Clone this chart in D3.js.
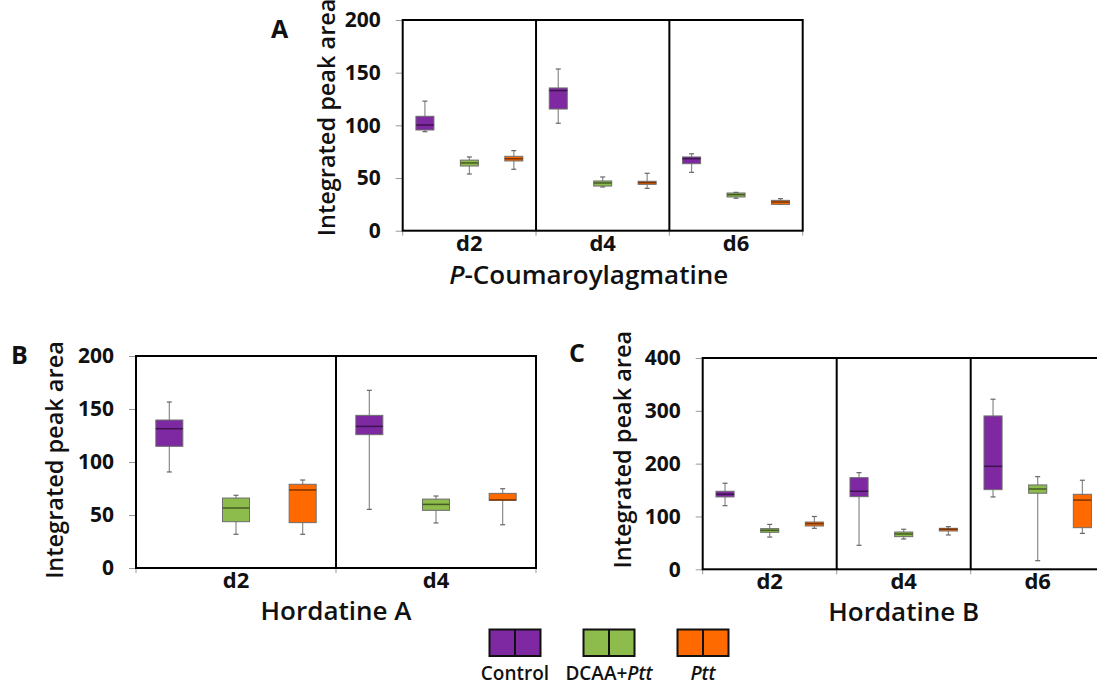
<!DOCTYPE html>
<html>
<head>
<meta charset="utf-8">
<script src="https://cdn.jsdelivr.net/npm/d3@7"></script>
<style>
  body { margin: 0; background: #fff; }
  svg { display: block; font-family: "Open Sans", "DejaVu Sans", sans-serif; }
</style>
</head>
<body>
<div class="myBox"></div>
<script>
var width = 1097;
var height = 686;

// series names + colours
var series = ["Control", "DCAA+Ptt", "Ptt"];
var colors = ["#7e28a1", "#8dbb4c", "#ff6a00"];

// box stats: [whisker low, q1, median, q3, whisker high]
// panel A - P-Coumaroylagmatine
var daysA = ["d2", "d4", "d6"];
var controlA = [[94, 95.6, 100.3, 108.6, 123], [102, 115.5, 133, 135.5, 153.5], [55.4, 63.6, 68.4, 70, 73]];
var dcaaA    = [[53.8, 61.4, 64.3, 67, 70], [41.5, 42.4, 45.3, 47.2, 51], [30.8, 32, 34.2, 35.8, 36.4]];
var pttA     = [[58.3, 66.2, 68.3, 70.6, 76], [40.2, 44, 45.6, 46.9, 54.5], [25, 25, 27.2, 28.8, 30.4]];

// panel B - Hordatine A
var daysB = ["d2", "d4"];
var controlB = [[90.6, 114.8, 131.4, 139.6, 156.6], [55.3, 125.8, 133.6, 144, 167.6]];
var dcaaB    = [[31.8, 43.7, 56.6, 66, 68.6], [42.5, 54.4, 60, 65, 67.9]];
var pttB     = [[31.8, 42.8, 73.6, 79, 83], [40.8, 64, 64.2, 70.4, 74.8]];

// panel C - Hordatine B
var daysC = ["d2", "d4", "d6"];
var controlC = [[120.5, 137, 142, 147.7, 162.9], [45.4, 137.5, 147.7, 173.5, 183], [137, 150.8, 195, 290.3, 322]];
var dcaaC    = [[61, 70, 73.8, 77, 85], [57.4, 61.8, 66.9, 70.6, 75.8], [16.3, 144, 152, 159.7, 175.4]];
var pttC     = [[77.6, 82, 86.4, 89.5, 100], [65, 72.5, 75.8, 77.6, 80.7], [68, 78.8, 131, 142, 168.6]];

var ticksA = [0, 50, 100, 150, 200];
var ticksB = [0, 50, 100, 150, 200];
var ticksC = [0, 100, 200, 300, 400];

var svg = d3.select(".myBox")
  .append("svg")
  .attr("width", width)
  .attr("height", height);

svg.append("rect").attr("width", width).attr("height", height).attr("fill", "#fff");

function panel(opt) {
  var g = svg.append("g");
  var x = d3.scaleBand().domain(opt.days).range([opt.left, opt.right]);
  var y = d3.scaleLinear().domain([0, d3.max(opt.ticks)]).range([opt.bottom, opt.top]);
  var sub = d3.scaleBand().domain(series).range([0, x.bandwidth()]);
  var bw = x.bandwidth() * 0.135;

  // y axis ticks
  var yAxis = d3.axisLeft(y).tickValues(opt.ticks).tickSize(7).tickPadding(15);
  var ya = g.append("g").attr("transform", "translate(" + opt.left + ",0)").call(yAxis);
  ya.select(".domain").remove();
  ya.selectAll("line").attr("stroke", "#999");
  ya.selectAll("text")
    .style("font-size", "21px").style("font-weight", "700")
    .style("font-family", "'Open Sans', sans-serif").attr("fill", "#111");

  // x ticks at the group boundaries
  var bounds = opt.days.map(function(d) { return x(d); }).concat([opt.right]);
  g.selectAll(".xt").data(bounds).enter().append("line")
    .attr("x1", function(d) { return d; }).attr("x2", function(d) { return d; })
    .attr("y1", opt.bottom).attr("y2", opt.bottom + 5)
    .attr("stroke", "#999");

  // day labels
  g.selectAll(".xl").data(opt.days).enter().append("text")
    .attr("x", function(d) { return x(d) + x.bandwidth() / 2; })
    .attr("y", opt.bottom + 20)
    .attr("text-anchor", "middle")
    .style("font-size", "22px").style("font-weight", "700")
    .attr("fill", "#111")
    .text(function(d) { return d; });

  // boxes
  opt.data.forEach(function(arr, si) {
    var col = colors[si];
    arr.forEach(function(s, di) {
      var cx = x(opt.days[di]) + sub(series[si]) + sub.bandwidth() / 2;
      var b = g.append("g");
      b.append("line")
        .attr("x1", cx).attr("x2", cx)
        .attr("y1", y(s[0])).attr("y2", y(s[4]))
        .attr("stroke", "#8a8a8a").attr("stroke-width", 1.2);
      [s[0], s[4]].forEach(function(v) {
        b.append("line")
          .attr("x1", cx - 2.5).attr("x2", cx + 2.5)
          .attr("y1", y(v)).attr("y2", y(v))
          .attr("stroke", "#666").attr("stroke-width", 1.2);
      });
      b.append("rect")
        .attr("x", cx - bw / 2).attr("width", bw)
        .attr("y", y(s[3])).attr("height", Math.max(y(s[1]) - y(s[3]), 1))
        .attr("fill", col)
        .attr("stroke", "#6d6d6d").attr("stroke-width", 1);
      b.append("line")
        .attr("x1", cx - bw / 2).attr("x2", cx + bw / 2)
        .attr("y1", y(s[2])).attr("y2", y(s[2]))
        .attr("stroke", d3.color(col).darker(2)).attr("stroke-width", 1.5);
    });
  });

  // frame + dividers
  g.append("rect")
    .attr("x", opt.left).attr("y", opt.top)
    .attr("width", opt.right - opt.left).attr("height", opt.bottom - opt.top)
    .attr("fill", "none").attr("stroke", "#000").attr("stroke-width", 2);
  g.selectAll(".dv").data(opt.days.slice(1)).enter().append("line")
    .attr("x1", function(d) { return x(d); }).attr("x2", function(d) { return x(d); })
    .attr("y1", opt.top).attr("y2", opt.bottom)
    .attr("stroke", "#000").attr("stroke-width", 2);

  // y title
  var yc = (opt.top + opt.bottom) / 2 + opt.yTitleDy;
  g.append("text")
    .attr("transform", "translate(" + (opt.left - opt.yTitleDx) + "," + yc + ") rotate(-90)")
    .attr("text-anchor", "middle")
    .style("font-size", "23.5px").style("font-weight", "600")
    .attr("fill", "#111")
    .text("Integrated peak area");

  // chart title
  var t = g.append("text")
    .attr("x", (opt.left + opt.right) / 2 + opt.titleDx)
    .attr("y", opt.bottom + opt.titleDy)
    .attr("text-anchor", "middle")
    .style("font-size", opt.titleSize + "px").style("font-weight", "600")
    .attr("fill", "#111");
  if (opt.titleItalic) {
    t.append("tspan").style("font-style", "italic").text(opt.titleItalic);
  }
  t.append("tspan").text(opt.title);

  // panel letter
  g.append("text")
    .attr("x", opt.letterX).attr("y", opt.letterY)
    .style("font-size", "25px").style("font-weight", "700")
    .attr("fill", "#111")
    .text(opt.letter);
}

panel({
  days: daysA, data: [controlA, dcaaA, pttA], ticks: ticksA,
  left: 402.7, right: 802.7, top: 20, bottom: 230.7,
  yTitleDx: 68, yTitleDy: -8,
  title: "-Coumaroylagmatine", titleItalic: "P", titleSize: 26, titleDx: -14, titleDy: 53,
  letter: "A", letterX: 271, letterY: 38
});

panel({
  days: daysB, data: [controlB, dcaaB, pttB], ticks: ticksB,
  left: 136, right: 536, top: 356, bottom: 568,
  yTitleDx: 73, yTitleDy: -2,
  title: "Hordatine A", titleSize: 26, titleDx: 0, titleDy: 52,
  letter: "B", letterX: 11, letterY: 364
});

panel({
  days: daysC, data: [controlC, dcaaC, pttC], ticks: ticksC,
  left: 702.7, right: 1104.7, top: 358, bottom: 569.3,
  yTitleDx: 72, yTitleDy: -14,
  title: "Hordatine B", titleSize: 26, titleDx: 0, titleDy: 51.5,
  letter: "C", letterX: 569, letterY: 362
});

// legend
var lx = d3.scalePoint().domain(series).range([515, 703]);
var leg = svg.append("g");
series.forEach(function(s, i) {
  var cx = lx(s);
  leg.append("rect")
    .attr("x", cx - 25.5).attr("y", 629.5)
    .attr("width", 51).attr("height", 26.5)
    .attr("fill", colors[i]).attr("stroke", "#111").attr("stroke-width", 2);
  leg.append("line")
    .attr("x1", cx).attr("x2", cx).attr("y1", 629.5).attr("y2", 656)
    .attr("stroke", "#111").attr("stroke-width", 2);
  var t = leg.append("text")
    .attr("x", cx).attr("y", 680)
    .attr("text-anchor", "middle")
    .style("font-size", "19px").style("font-weight", "600")
    .attr("fill", "#111");
  if (s === "DCAA+Ptt") {
    t.append("tspan").text("DCAA+");
    t.append("tspan").style("font-style", "italic").text("Ptt");
  } else if (s === "Ptt") {
    t.append("tspan").style("font-style", "italic").text("Ptt");
  } else {
    t.text(s);
  }
});
</script>
</body>
</html>
